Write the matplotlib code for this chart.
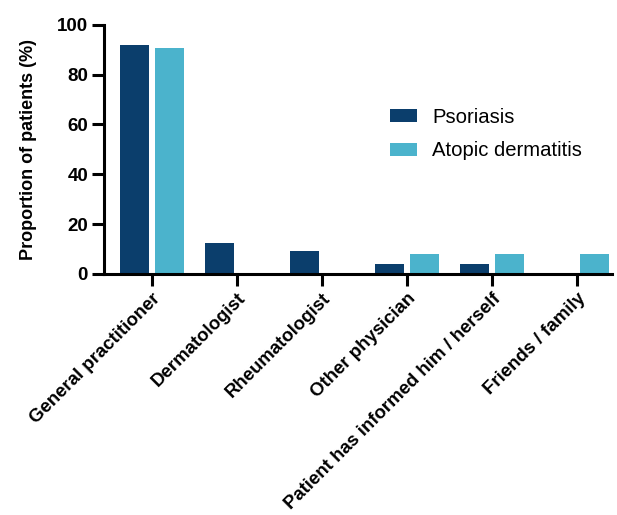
import matplotlib
matplotlib.use("Agg")
import matplotlib.pyplot as plt
import numpy as np

categories = ["General practitioner", "Dermatologist", "Rheumatologist",
              "Other physician", "Patient has informed him / herself", "Friends / family"]
psoriasis = [92.0, 12.3, 9.4, 4.2, 4.2, 0.0]
atopic = [90.5, 0.0, 0.0, 7.9, 7.9, 7.9]
series_names = ["Psoriasis", "Atopic dermatitis"]
yticks = [0, 20, 40, 60, 80, 100]

c_pso = "#0b3e6c"
c_ad = "#4bb3cc"

plt.rcParams['font.family'] = ['Liberation Sans', 'DejaVu Sans']

fig = plt.figure(figsize=(6.17, 5.15), dpi=100)
ax = fig.add_axes([0.1686, 0.468, 0.992 - 0.1686, 0.952 - 0.468])

x = np.arange(len(categories))
w = 0.34
off = 0.205
ax.bar(x - off, psoriasis, w, color=c_pso, label=series_names[0])
ax.bar(x + off, atopic, w, color=c_ad, label=series_names[1])

ax.set_xlim(-0.56, 5.41)
ax.set_ylim(0, 100)
ax.set_yticks(yticks)
ax.set_yticklabels([str(v) for v in yticks], fontsize=13.5, fontweight='bold')
ax.set_xticks(x)
ax.set_xticklabels(categories, rotation=45, ha='right', rotation_mode='anchor',
                   fontsize=13.4, fontweight='bold')
ax.set_ylabel("Proportion of patients (%)", fontsize=13, fontweight='bold', labelpad=14)

for s in ['top', 'right']:
    ax.spines[s].set_visible(False)
for s in ['left', 'bottom']:
    ax.spines[s].set_linewidth(2.2)
ax.tick_params(axis='both', width=2.2, length=8.5, direction='out', pad=3)

leg = ax.legend(loc='upper left', bbox_to_anchor=(0.527, 0.74), frameon=False,
                fontsize=14.6, handlelength=1.33, handleheight=0.64,
                handletextpad=0.74, labelspacing=0.72)

fig.savefig("out.png", dpi=100)
